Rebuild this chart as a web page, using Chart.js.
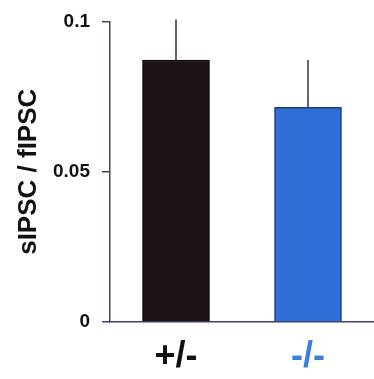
<!DOCTYPE html>
<html>
<head>
<meta charset="utf-8">
<script src="https://cdn.jsdelivr.net/npm/chart.js@4.4.1/dist/chart.umd.min.js"></script>
<style>
    html, body { margin: 0; padding: 0; background: #fff; }
    #wrap { width: 374px; height: 379px; }
</style>
</head>
<body>
<div id="wrap"><canvas id="ratioChart"></canvas></div>
<script>
// Genotypes and measured ratio (mean, SEM)
const genotypes = ['+/-', '-/-'];
const ratioMeans = [0.0872, 0.0714];
const ratioErrors = [0.0135, 0.0158];
const yTickLabels = ['0', '0.05', '0.1'];

const barFills = ['#1d1513', '#2d6fd6'];
const barEdges = ['#0c0808', '#1b3f78'];
const labelColors = ['#111111', '#3a7fe0'];
const axisColor = '#4a3f5e';

// Upward-only error whiskers, no caps
const errorBarPlugin = {
    id: 'errorBars',
    afterDatasetsDraw(chart) {
        const meta = chart.getDatasetMeta(0);
        const yScale = chart.scales.y;
        const ctx = chart.ctx;
        ctx.save();
        ctx.strokeStyle = '#4a3a48';
        ctx.lineWidth = 1.6;
        meta.data.forEach((bar, i) => {
            const top = yScale.getPixelForValue(ratioMeans[i] + ratioErrors[i]);
            ctx.beginPath();
            ctx.moveTo(bar.x, bar.y);
            ctx.lineTo(bar.x, top);
            ctx.stroke();
        });
        ctx.restore();
    }
};

function createRatioChart() {
    const ctx = document.getElementById('ratioChart');
    if (!ctx) return;

    return new Chart(ctx, {
        type: 'bar',
        data: {
            labels: genotypes,
            datasets: [{
                data: ratioMeans,
                backgroundColor: barFills,
                borderColor: barEdges,
                borderWidth: 1.5,
                barThickness: 67
            }]
        },
        options: {
            responsive: true,
            maintainAspectRatio: false,
            animation: false,
            layout: {
                padding: { top: 20, right: -4, bottom: 0, left: 0 }
            },
            plugins: {
                legend: { display: false },
                tooltip: { enabled: false }
            },
            scales: {
                x: {
                    grid: { display: false, drawTicks: false },
                    border: { display: true, color: axisColor, width: 1.5 },
                    ticks: {
                        padding: 13,
                        color: (c) => labelColors[c.index],
                        font: { family: 'Arial, "Liberation Sans", sans-serif', size: 36, weight: 'bold' }
                    },
                    afterFit(scale) {
                        scale.height = 57;
                    }
                },
                y: {
                    min: 0,
                    max: 0.1,
                    grid: {
                        drawOnChartArea: false,
                        drawTicks: true,
                        tickLength: 8,
                        color: axisColor,
                        lineWidth: 1.5
                    },
                    border: { display: true, color: axisColor, width: 1.5 },
                    ticks: {
                        stepSize: 0.05,
                        padding: 12,
                        color: '#111111',
                        font: { family: 'Arial, "Liberation Sans", sans-serif', size: 19, weight: 'bold', lineHeight: 1.0 },
                        callback: function(value, index) {
                            return yTickLabels[index];
                        }
                    },
                    title: {
                        display: true,
                        text: 'sIPSC / fIPSC',
                        color: '#111111',
                        padding: { top: 13, bottom: 0 },
                        font: { family: 'Arial, "Liberation Sans", sans-serif', size: 26, weight: 'bold' }
                    },
                    afterFit(scale) {
                        scale.width = 110;
                    }
                }
            }
        },
        plugins: [errorBarPlugin]
    });
}

createRatioChart();
</script>
</body>
</html>
